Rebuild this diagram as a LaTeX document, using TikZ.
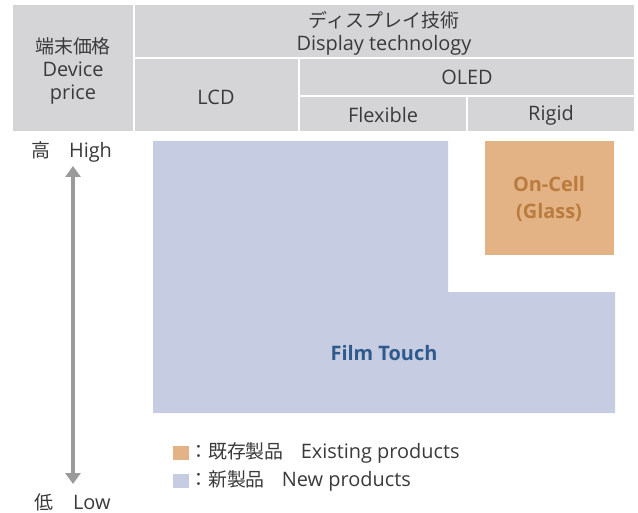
\documentclass[tikz,border=0pt]{standalone}
\usepackage{fontspec}
\setmainfont{Open Sans}
\newfontfamily\jp{Noto Sans CJK JP}[Scale=0.95]
\usetikzlibrary{arrows.meta}
\definecolor{hdr}{HTML}{D5D5D7}
\definecolor{newc}{HTML}{C6CCE1}
\definecolor{oldc}{HTML}{E3B385}
\definecolor{txt}{HTML}{3A3A3A}
\definecolor{ftxt}{HTML}{2F5A8C}
\definecolor{otxt}{HTML}{B97B3E}
\definecolor{arr}{HTML}{9A9A9C}
\begin{document}
\begin{tikzpicture}[x=1bp,y=-1bp,
  cell/.style={fill=hdr},
  lbl/.style={text=txt,font=\fontsize{20}{23}\selectfont,inner sep=0pt,align=center},
  boxlbl/.style={font=\bfseries\fontsize{20}{27}\selectfont,inner sep=0pt,align=center}]
\useasboundingbox (0,0) rectangle (638,513);
% header cells
\fill[cell] (13,5) rectangle (133,131);
\fill[cell] (135,5) rectangle (634,57);
\fill[cell] (135,59) rectangle (298,131);
\fill[cell] (300,59) rectangle (634,95);
\fill[cell] (300,97) rectangle (466,131);
\fill[cell] (468,97) rectangle (634,131);
\node[lbl] (price) at (73,71) {{\jp 端末価格}\\Device\\price};
\node[lbl] (tech) at (384,33.5) {{\jp ディスプレイ技術}\\Display technology};
\node[lbl] (lcd) at (216,97) {LCD};
\node[lbl] (oled) at (467,77) {OLED};
\node[lbl] (flex) at (383,115) {Flexible};
\node[lbl] (rigid) at (551,115) {Rigid};
% new product L-shape
\fill[newc] (153,141) -- (448,141) -- (448,292) -- (615,292) -- (615,413) -- (153,413) -- cycle;
\node[boxlbl,text=ftxt] (film) at (384,353) {Film Touch};
% existing product
\fill[oldc] (485,141) rectangle (614,255);
\node[boxlbl,text=otxt] (oncell) at (549,199) {On-Cell\\(Glass)};
% axis
\node[lbl,anchor=west] (high) at (31,152) {{\jp 高}\hspace{19pt}High};
\node[lbl,anchor=west] (low) at (34,502) {{\jp 低}\hspace{20pt}Low};
\coordinate (atop) at (73,166);
\coordinate (abot) at (73,484);
\draw[arr,line width=3.2pt,{Triangle[width=15pt,length=11pt]}-{Triangle[width=15pt,length=11pt]}] (atop) -- (abot);
% legend
\fill[oldc] (173,446) rectangle (189,460);
\fill[newc] (173,474) rectangle (189,488);
\node[lbl,anchor=west] (leg1) at (189,453) {{\jp ：既存製品}\hspace{17pt}Existing products};
\node[lbl,anchor=west] (leg2) at (189,481) {{\jp ：新製品}\hspace{17pt}New products};
\end{tikzpicture}
\end{document}
